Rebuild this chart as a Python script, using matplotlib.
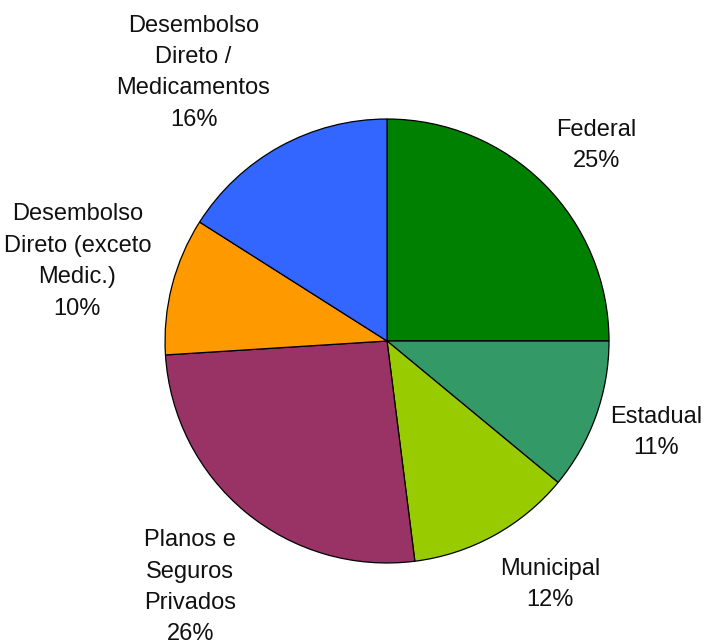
import numpy as np
from matplotlib import pyplot as plt

plt.rcParams['font.family'] = ['Liberation Sans', 'DejaVu Sans']

# spending by source, percent
labels = ["Federal", "Estadual", "Municipal", "Planos e\nSeguros\nPrivados",
          "Desembolso\nDireto (exceto\nMedic.)", "Desembolso\nDireto /\nMedicamentos"]
shares = [25, 11, 12, 26, 10, 16]
colors = ["#008000", "#339966", "#99CC00", "#993366", "#FF9900", "#3366FF"]

# label placement: distance from centre (in radii) and angle nudge (deg)
label_dist = [1.29, 1.28, 1.32, 1.42, 1.44, 1.49]
label_nudge = [-2, 1, 5, 1, 0, 7]

fig = plt.figure(figsize=(7.04, 6.44), dpi=100)
ax = fig.add_axes([0.2344, 0.1258, 0.6307, 0.6894])

wedges, texts = ax.pie(shares, colors=colors, startangle=90, counterclock=False,
                       radius=1.0, labels=None,
                       wedgeprops=dict(edgecolor="black", linewidth=0.9))

for w, lab, val, d, nud in zip(wedges, labels, shares, label_dist, label_nudge):
    mid = np.deg2rad((w.theta1 + w.theta2) / 2 + nud)
    ax.text(d * np.cos(mid), d * np.sin(mid), "%s\n%d%%" % (lab, val),
            ha="center", va="center", fontsize=17, linespacing=1.55,
            color="#111111", clip_on=False)

ax.set_xlim(-1, 1)
ax.set_ylim(-1, 1)
ax.set_aspect("equal")
ax.axis("off")

fig.savefig("out.png", dpi=100)
